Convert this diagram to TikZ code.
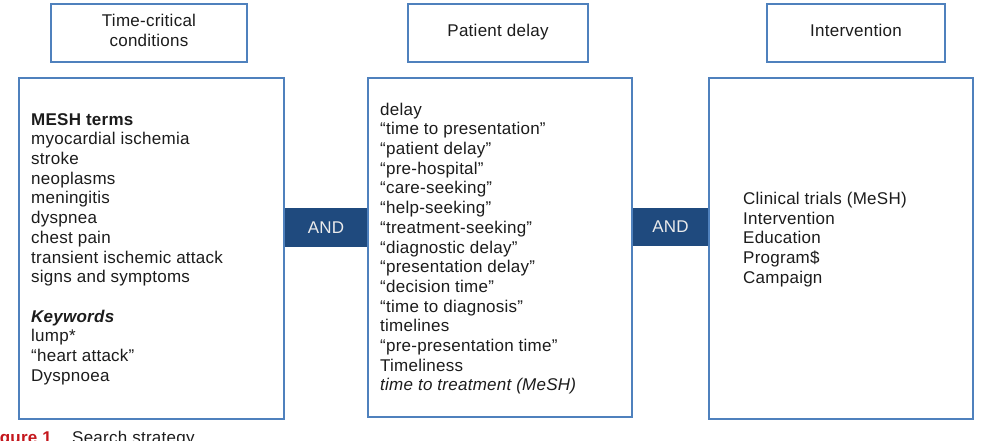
\documentclass[tikz,border=0pt]{standalone}
\usepackage{fontspec}
\setmainfont{Liberation Sans}[LetterSpace=1.5]
\definecolor{boxblue}{HTML}{4F81BD}
\definecolor{anddark}{HTML}{1F4A7E}
\definecolor{txt}{HTML}{1C1C1C}
\definecolor{capred}{HTML}{C4161C}
\tikzset{
  frame/.style={draw=boxblue, line width=1.8pt, fill=white, rectangle, inner sep=0pt},
  andbox/.style={fill=anddark, rectangle, inner sep=0pt, text=white!92!black,
    font=\fontsize{17}{19.7}\selectfont},
  head/.style={align=center, text=txt, inner sep=0pt, font=\fontsize{17}{20}\selectfont},
  list/.style={align=left, text=txt, inner sep=0pt, anchor=north west,
    font=\fontsize{17}{19.7}\selectfont},
}
\begin{document}
\begin{tikzpicture}[x=1pt, y=-1pt]
\useasboundingbox (0,0) rectangle (989,440);
% AND connectors (drawn first, frames overlay their ends)
\node[andbox, minimum width=86pt, minimum height=39pt] (and1) at (326,227.5) {AND};
\node[andbox, minimum width=79pt, minimum height=38pt] (and2) at (670.5,227) {AND};
% header boxes
\node[frame, minimum width=196pt, minimum height=58pt] (h1) at (149,33) {};
\node[frame, minimum width=180pt, minimum height=58pt] (h2) at (498,33) {};
\node[frame, minimum width=178pt, minimum height=58pt] (h3) at (856,33) {};
\node[head, anchor=base] (h1t) at (149,46.5) {Time-critical\\conditions};
\node[head, anchor=base] (h2t) at (498,36.5) {Patient delay};
\node[head, anchor=base] (h3t) at (856,36.5) {Intervention};
% main boxes
\node[frame, minimum width=265pt, minimum height=341pt] (b1) at (151.5,248.5) {};
\node[frame, minimum width=264pt, minimum height=339pt] (b2) at (500,247.5) {};
\node[frame, minimum width=264pt, minimum height=341pt] (b3) at (841,248.5) {};
% lists
\node[list] (l1) at (31,111.2) {\strut\textbf{MESH terms}\\
myocardial ischemia\\
stroke\\
neoplasms\\
meningitis\\
dyspnea\\
chest pain\\
transient ischemic attack\\
signs and symptoms\\[19.7pt]
\textbf{\textit{Keywords}}\\
lump*\\
“heart attack”\\
Dyspnoea};
\node[list] (l2) at (380,101.2) {\strut delay\\
“time to presentation”\\
“patient delay”\\
“pre-hospital”\\
“care-seeking”\\
“help-seeking”\\
“treatment-seeking”\\
“diagnostic delay”\\
“presentation delay”\\
“decision time”\\
“time to diagnosis”\\
timelines\\
“pre-presentation time”\\
Timeliness\\
\textit{time to treatment (MeSH)}};
\node[list] (l3) at (743,190.5) {\strut Clinical trials (MeSH)\\
Intervention\\
Education\\
Program\$\\
Campaign};
% caption (cut by the picture's edge, as in the reference)
\node[anchor=base west, inner sep=0pt, text=capred, font=\fontsize{17}{19.7}\selectfont\bfseries] (cap1) at (-16,443.5) {Figure 1};
\node[anchor=base west, inner sep=0pt, text=txt, font=\fontsize{17}{19.7}\selectfont] (cap2) at (72,443.5) {Search strategy};
\end{tikzpicture}
\end{document}
